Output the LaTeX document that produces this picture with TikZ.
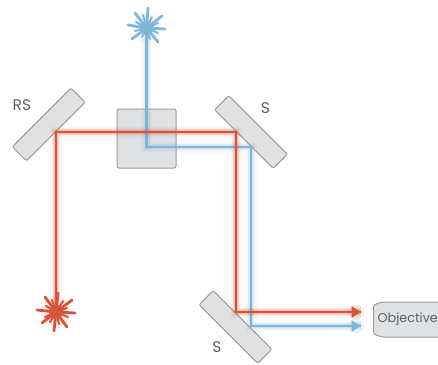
\documentclass[tikz,border=0pt]{standalone}
\usepackage{fontspec}
\setmainfont{Poppins}
\usetikzlibrary{arrows.meta}
\definecolor{redbeam}{HTML}{D5553A}
\definecolor{bluebeam}{HTML}{80B6D8}
\definecolor{partfill}{HTML}{E0E1E3}
\definecolor{partedge}{HTML}{9C9C9E}
\definecolor{labelgray}{HTML}{5F6062}
\tikzset{
  x=1pt,y=-1pt,
  mirror/.style={draw=partedge,fill=partfill,line width=1pt,rounded corners=2pt,minimum width=83pt,minimum height=20pt,inner sep=0pt,outer sep=0pt},
  cube/.style={draw=partedge,fill=partfill,line width=1pt,rounded corners=2pt,minimum width=59pt,minimum height=59pt,inner sep=0pt,outer sep=0pt},
  lbl/.style={text=labelgray,font=\fontsize{15.5}{16}\selectfont,inner sep=0pt},
  objlbl/.style={text=labelgray,font=\fontsize{12.7}{13}\selectfont,inner sep=0pt},
  halo/.style={
    preaction={draw,#1,opacity=.06,line width=11pt,-},
    preaction={draw,#1,opacity=.08,line width=8.5pt,-},
    preaction={draw,#1,opacity=.12,line width=6pt,-},
    preaction={draw,#1,opacity=.18,line width=4pt,-}},
  beam/.style={draw=#1,line width=2.6pt,line join=miter},
  tipped/.style={-{Triangle[length=9.5pt,width=11pt]}},
  ray/.style={line width=2.8pt,line cap=round},
  shortray/.style={line width=2pt,line cap=round},
}
\begin{document}
\begin{tikzpicture}
\useasboundingbox (0,0) rectangle (438,364);
% optical parts
\node[mirror,rotate=45] (rs) at (48.7,124.5) {};
\node[mirror,rotate=-45] (s1) at (251,132) {};
\node[mirror,rotate=-45] (s2) at (235.5,327) {};
\node[cube] (bs) at (146.5,138.5) {};
\path[draw=partedge,fill=partfill,line width=1pt,rounded corners=1.5pt]
  (438.5,302) -- (382,302) -- (373.5,305) -- (373.5,334) -- (382,337) -- (438.5,337);
% beam hit points
\coordinate (blue0) at (146.5,28);
\coordinate (blue1) at (146.5,147);
\coordinate (blue2) at (251,147);
\coordinate (blue3) at (251,326);
\coordinate (blue4) at (361,326);
\coordinate (red0) at (56,312);
\coordinate (red1) at (56,132);
\coordinate (red2) at (236,132);
\coordinate (red3) at (236,312);
\coordinate (red4) at (361,312);
% blue beam
\draw[halo=bluebeam,beam=bluebeam] (blue0) -- (blue1) -- (blue2) -- (blue3) -- (blue4);
\draw[bluebeam,line width=2.6pt,tipped] (blue3) -- (blue4);
\fill[bluebeam,opacity=.15] (356,326) circle (7.5);
% blue laser
\begin{scope}[bluebeam]
  \fill[opacity=.10] (blue0) circle (15);
  \foreach \e in {(148,8),(135,13),(162,16),(128,25),(165,29),(132,39),(158,42)}
    \draw[ray] (blue0) -- \e;
  \foreach \e in {(143,15),(152,17),(136,22),(158,23),(135,31),(158,33),(142,37),(150,39)}
    \draw[shortray] (blue0) -- \e;
  \fill (blue0) circle (7);
\end{scope}
% red beam
\draw[halo=redbeam,beam=redbeam] (red0) -- (red1) -- (red2) -- (red3) -- (red4);
\draw[redbeam,line width=2.6pt,tipped] (red3) -- (red4);
\fill[redbeam,opacity=.15] (356,312) circle (7.5);
% red laser
\begin{scope}[redbeam]
  \fill[opacity=.10] (red0) circle (15);
  \foreach \e in {(58,293),(45,297),(72,300),(37,310),(75,313),(42,323),(67,327),(54,331)}
    \draw[ray] (red0) -- \e;
  \foreach \e in {(52,300),(63,301),(46,306),(67,308),(45,317),(68,317),(50,322),(59,324)}
    \draw[shortray] (red0) -- \e;
  \fill (red0) circle (7);
\end{scope}
% labels
\node[lbl] (lrs) at (22,105) {RS};
\node[lbl] (ls1) at (265.5,108) {S};
\node[lbl] (ls2) at (217,347) {S};
\node[objlbl,anchor=west] (lobj) at (377.5,319) {Objective};
\end{tikzpicture}
\end{document}
